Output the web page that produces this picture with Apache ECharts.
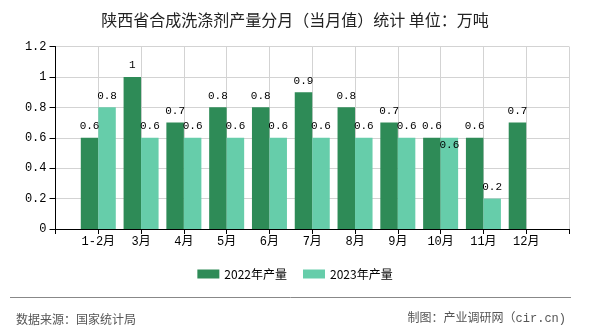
<!DOCTYPE html>
<html>
<head>
<meta charset="utf-8">
<script src="https://cdn.jsdelivr.net/npm/echarts@6/dist/echarts.min.js"></script>
<style>
html,body{margin:0;padding:0;background:#fff;}
#chart{width:590px;height:330px;}
</style>
</head>
<body>
<div id="chart"></div>
<script>
var categories = ['', '1-2月', '3月', '4月', '5月', '6月', '7月', '8月', '9月', '10月', '11月', '12月', ''];
var values2022 = [null, 0.6, 1, 0.7, 0.8, 0.8, 0.9, 0.8, 0.7, 0.6, 0.6, 0.7, null];
var values2023 = [null, 0.8, 0.6, 0.6, 0.6, 0.6, 0.6, 0.6, 0.6, 0.6, 0.2, null, null];
var seriesNames = ['2022年产量', '2023年产量'];
var yTicks = { min: 0, max: 1.2, interval: 0.2 };

var monoFont = "'Liberation Mono','DejaVu Sans Mono','Noto Sans CJK SC',monospace";
var sansFont = "'Noto Sans CJK SC','Noto Sans',sans-serif";

// When the two bars of a month have equal values, the second label sits inside its bar
var data2023 = values2023.map(function (v, i) {
  if (v != null && values2022[i] != null && v === values2022[i]) {
    return { value: v, label: { position: 'insideTop', distance: 2 } };
  }
  return v;
});

var chart = echarts.init(document.getElementById('chart'), null, { renderer: 'canvas' });
chart.setOption({
  animation: false,
  backgroundColor: '#fff',
  color: ['#2e8b57', '#66cdaa'],
  title: [
    { text: '陕西省合成洗涤剂产量分月（当月值）统计 单位：万吨', left: 'center', top: 7,
      textStyle: { fontSize: 16, fontWeight: 'normal', color: '#222', fontFamily: sansFont } },
    { text: '数据来源：国家统计局', left: 11, top: 308,
      textStyle: { fontSize: 12, fontWeight: 'normal', color: '#555', fontFamily: sansFont } },
    { text: '制图：产业调研网（cir.cn)', right: 19, top: 308,
      textStyle: { fontSize: 12, fontWeight: 'normal', color: '#555', fontFamily: monoFont } }
  ],
  graphic: [
    { type: 'line', shape: { x1: 10, y1: 297.5, x2: 571, y2: 297.5 },
      style: { stroke: '#888', lineWidth: 1 }, silent: true }
  ],
  legend: {
    data: seriesNames,
    bottom: 45,
    left: 'center',
    itemWidth: 22,
    itemHeight: 9,
    itemGap: 16,
    icon: 'rect',
    textStyle: { fontSize: 12, color: '#000', fontFamily: sansFont }
  },
  grid: { left: 55.5, right: 21, top: 46.5, bottom: 101, containLabel: false },
  xAxis: {
    type: 'category',
    data: categories,
    boundaryGap: false,
    axisLine: { show: true, lineStyle: { color: '#000', width: 1 } },
    axisTick: { show: true, length: 5, interval: 0, lineStyle: { color: '#000' } },
    axisLabel: { interval: 0, margin: 7, fontSize: 12, color: '#000', fontFamily: monoFont },
    splitLine: { show: true, interval: 0, lineStyle: { color: '#d3d3d3', width: 1 } }
  },
  yAxis: {
    type: 'value',
    min: yTicks.min,
    max: yTicks.max,
    interval: yTicks.interval,
    axisLine: { show: true, lineStyle: { color: '#000', width: 1 } },
    axisTick: { show: true, length: 6, lineStyle: { color: '#000' } },
    axisLabel: { margin: 9, fontSize: 12, color: '#000', fontFamily: monoFont },
    splitLine: { show: true, lineStyle: { color: '#d3d3d3', width: 1 } }
  },
  series: [
    {
      name: seriesNames[0], type: 'bar', data: values2022,
      barWidth: 17.5, barGap: '0%',
      label: { show: true, position: 'top', distance: 6, fontSize: 11, color: '#000', fontFamily: monoFont }
    },
    {
      name: seriesNames[1], type: 'bar', data: data2023,
      barWidth: 17.5, barGap: '0%',
      label: { show: true, position: 'top', distance: 6, fontSize: 11, color: '#000', fontFamily: monoFont }
    }
  ]
});
</script>
</body>
</html>
